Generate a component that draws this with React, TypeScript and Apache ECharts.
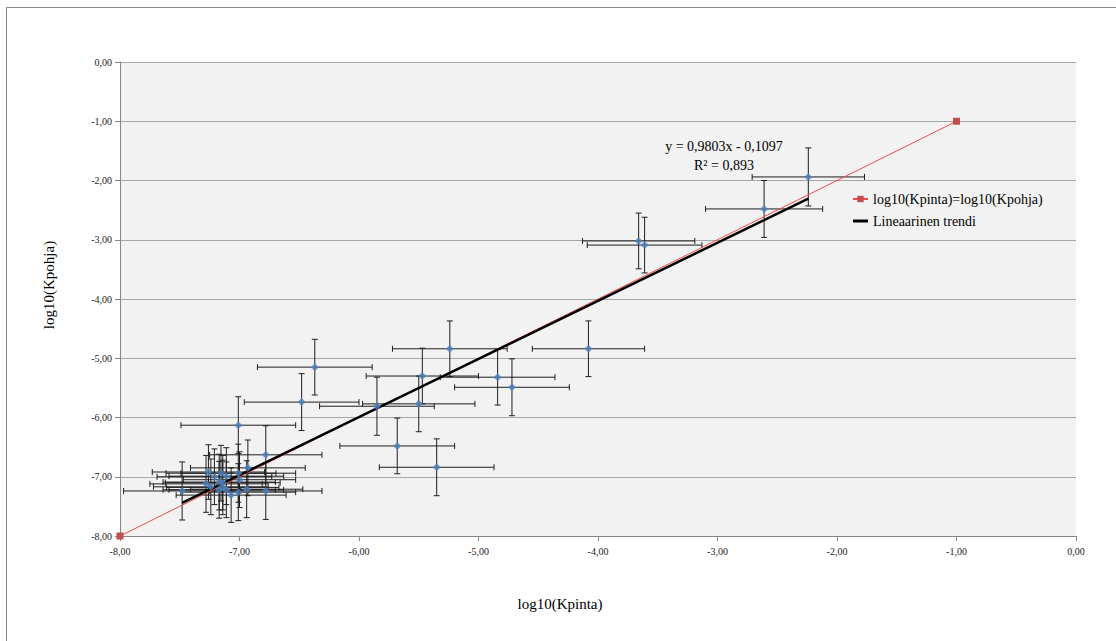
import React, { useEffect, useRef } from "react";
import * as echarts from "echarts";

// Measured points: log10(Kpinta) (x), log10(Kpohja) (y) with error half-widths
const xVals = [
  -2.24, -2.61, -3.66, -3.61, -5.24, -4.08, -5.47, -4.84, -4.72, -5.85, -5.5, -5.68, -5.35, -6.37, -6.48, -7.01, -6.78,
  -7.48, -7.26, -7.28, -7.21, -7.155, -7.11, -7.17, -7.14, -7.17, -7.11, -7.07, -7.01, -7.0, -7.01, -6.93, -6.94, -6.78, -7.24, -7.14,
];
const yVals = [
  -1.94, -2.48, -3.02, -3.09, -4.84, -4.84, -5.3, -5.32, -5.49, -5.81, -5.77, -6.48, -6.84, -5.15, -5.74, -6.13, -6.63,
  -7.24, -6.92, -7.12, -7.0, -6.94, -6.99, -7.09, -7.1, -7.22, -7.22, -7.31, -6.94, -7.05, -7.26, -6.85, -7.21, -7.24, -7.17, -7.18,
];
const xErr = [
  0.47, 0.49, 0.47, 0.48, 0.48, 0.47, 0.47, 0.48, 0.48, 0.48, 0.47, 0.48, 0.48, 0.48, 0.48, 0.48, 0.47,
  0.49, 0.47, 0.47, 0.48, 0.46, 0.48, 0.47, 0.48, 0.47, 0.48, 0.46, 0.48, 0.47, 0.48, 0.48, 0.47, 0.47, 0.48, 0.47,
];
const yErr = [
  0.49, 0.48, 0.47, 0.47, 0.47, 0.47, 0.47, 0.47, 0.48, 0.49, 0.47, 0.47, 0.48, 0.47, 0.48, 0.48, 0.49,
  0.49, 0.46, 0.48, 0.47, 0.47, 0.48, 0.47, 0.46, 0.48, 0.47, 0.46, 0.49, 0.47, 0.48, 0.47, 0.48, 0.48, 0.47, 0.46,
];

// Identity reference line endpoints
const identityLine = [
  [-8, -8],
  [-1, -1],
];

// Trend line (from the chart's fitted equation)
const trendSlope = 0.9803;
const trendIntercept = -0.1097;
const equationText = "y = 0,9803x - 0,1097";
const r2Text = "R² = 0,893";

const xTicks = { min: -8, max: 0, interval: 1 };
const yTicks = { min: -8, max: 0, interval: 1 };

const legendNames = ["log10(Kpinta)=log10(Kpohja)", "Lineaarinen trendi"];

const fmt = (v: number) => v.toFixed(2).replace(".", ",");

export default function App() {
  const ref = useRef<HTMLDivElement>(null);

  useEffect(() => {
    if (!ref.current) return;
    const chart = echarts.init(ref.current, undefined, { renderer: "svg" });

    const points = xVals.map((x, i) => [x, yVals[i]]);
    const errData = xVals.map((x, i) => [x, yVals[i], xErr[i], yErr[i]]);
    const xMin = Math.min(...xVals);
    const xMax = Math.max(...xVals);
    const trend = [
      [xMin, trendSlope * xMin + trendIntercept],
      [xMax, trendSlope * xMax + trendIntercept],
    ];

    const serif = "'Liberation Serif', 'Times New Roman', serif";

    chart.setOption({
      animation: false,
      backgroundColor: "#ffffff",
      grid: { left: 120, top: 62, width: 956, height: 474, containLabel: false },
      xAxis: {
        type: "value",
        min: xTicks.min,
        max: xTicks.max,
        interval: xTicks.interval,
        name: "log10(Kpinta)",
        nameLocation: "middle",
        nameGap: 60,
        nameTextStyle: { fontFamily: serif, fontSize: 15, color: "#000", padding: [0, 76, 0, 0] },
        axisLine: { show: true, onZero: false, lineStyle: { color: "#868686", width: 1 } },
        axisTick: { show: true, length: 5, lineStyle: { color: "#868686" } },
        axisLabel: { formatter: fmt, fontFamily: serif, fontSize: 10, color: "#222", margin: 10 },
        splitLine: { show: false },
      },
      yAxis: {
        type: "value",
        min: yTicks.min,
        max: yTicks.max,
        interval: yTicks.interval,
        name: "log10(Kpohja)",
        nameLocation: "middle",
        nameRotate: 90,
        nameGap: 64,
        nameTextStyle: { fontFamily: serif, fontSize: 15, color: "#000", padding: [0, 0, 0, 28] },
        axisLine: { show: true, onZero: false, lineStyle: { color: "#868686", width: 1 } },
        axisTick: { show: true, length: 5, lineStyle: { color: "#868686" } },
        axisLabel: { formatter: fmt, fontFamily: serif, fontSize: 10, color: "#222", margin: 8 },
        splitLine: { show: true, lineStyle: { color: "#a6a6a6", width: 1 } },
        splitArea: { show: true, areaStyle: { color: ["#f2f2f2", "#f2f2f2"] } },
      },
      legend: {
        data: [
          { name: legendNames[0] },
          { name: legendNames[1], icon: "path://M0,0 L15,0 L15,3 L0,3 Z" },
        ],
        orient: "vertical",
        left: 847,
        top: 187,
        itemWidth: 15,
        itemHeight: 8,
        itemGap: 8,
        textStyle: { fontFamily: serif, fontSize: 14, color: "#000" },
      },
      graphic: [
        {
          type: "rect",
          silent: true,
          shape: { x: 6.5, y: 7.5, width: 1200, height: 700 },
          style: { fill: "none", stroke: "#8a8a8a", lineWidth: 1 },
          z: -10,
        },
        {
          type: "text",
          x: 724,
          y: 146,
          style: { text: equationText, fontFamily: serif, fontSize: 14, fill: "#000", align: "center", verticalAlign: "middle" },
          z: 100,
        },
        {
          type: "text",
          x: 724,
          y: 165,
          style: { text: r2Text, fontFamily: serif, fontSize: 14, fill: "#000", align: "center", verticalAlign: "middle" },
          z: 100,
        },
      ],
      series: [
        {
          name: "errors",
          type: "custom",
          z: 1,
          data: errData,
          encode: { x: 0, y: 1 },
          renderItem: (params: any, api: any) => {
            const x = api.value(0);
            const y = api.value(1);
            const xe = api.value(2);
            const ye = api.value(3);
            const l = api.coord([x - xe, y]);
            const r = api.coord([x + xe, y]);
            const t = api.coord([x, y + ye]);
            const b = api.coord([x, y - ye]);
            const c = 3;
            const style = { stroke: "#1e1e1e", lineWidth: 1 };
            const mk = (x1: number, y1: number, x2: number, y2: number) => ({
              type: "line",
              shape: { x1, y1, x2, y2 },
              style,
            });
            return {
              type: "group",
              children: [
                mk(l[0], l[1], r[0], r[1]),
                mk(l[0], l[1] - c, l[0], l[1] + c),
                mk(r[0], r[1] - c, r[0], r[1] + c),
                mk(t[0], t[1], b[0], b[1]),
                mk(t[0] - c, t[1], t[0] + c, t[1]),
                mk(b[0] - c, b[1], b[0] + c, b[1]),
              ],
            };
          },
        },
        {
          name: legendNames[0],
          type: "line",
          z: 2,
          data: identityLine,
          symbol: "rect",
          symbolSize: 7,
          lineStyle: { color: "#f24a4a", width: 1 },
          itemStyle: { color: "#c0504d" },
        },
        {
          name: legendNames[1],
          type: "line",
          z: 3,
          data: trend,
          symbol: "none",
          lineStyle: { color: "#000000", width: 2.5 },
          itemStyle: { color: "#000000" },
        },
        {
          name: "points",
          type: "scatter",
          z: 4,
          data: points,
          symbol: "diamond",
          symbolSize: 8,
          itemStyle: { color: "#4f81bd" },
        },
      ],
    });

    return () => chart.dispose();
  }, []);

  return (
    <div
      ref={ref}
      style={{ position: "fixed", left: 0, top: 0, width: 1116, height: 641 }}
    />
  );
}
